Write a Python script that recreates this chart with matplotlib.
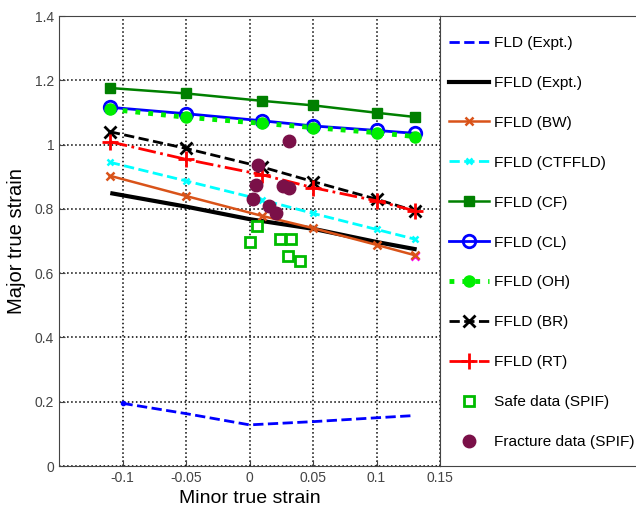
import numpy as np
import matplotlib
matplotlib.use("Agg")
from matplotlib import pyplot as plt

plt.rcParams['font.family'] = ['Liberation Sans', 'DejaVu Sans']

# ---- donnees ----
minor_pts = [-0.11, -0.05, 0.01, 0.05, 0.10, 0.13]

fld_x = [-0.10, -0.05, 0.0, 0.05, 0.10, 0.13]
fld_y = [0.195, 0.163, 0.128, 0.138, 0.150, 0.157]

ffld_expt_x = [-0.108, -0.05, 0.0, 0.05, 0.10, 0.13]
ffld_expt_y = [0.848, 0.807, 0.768, 0.738, 0.697, 0.675]

ffld_bw = [0.903, 0.840, 0.778, 0.740, 0.688, 0.656]
ffld_ctffld = [0.945, 0.887, 0.828, 0.786, 0.736, 0.706]
ffld_cf = [1.176, 1.159, 1.136, 1.122, 1.099, 1.086]
ffld_cl = [1.116, 1.096, 1.074, 1.058, 1.044, 1.035]
ffld_oh = [1.110, 1.085, 1.066, 1.053, 1.037, 1.025]
ffld_br = [1.040, 0.988, 0.930, 0.885, 0.830, 0.794]
ffld_rt = [1.009, 0.954, 0.906, 0.866, 0.825, 0.794]

safe_x = [0.0005, 0.006, 0.024, 0.033, 0.030, 0.040]
safe_y = [0.697, 0.747, 0.705, 0.705, 0.653, 0.638]

frac_x = [0.031, 0.007, 0.005, 0.026, 0.031, 0.003, 0.015, 0.021]
frac_y = [1.012, 0.935, 0.875, 0.870, 0.864, 0.830, 0.810, 0.786]

fig = plt.figure(figsize=(6.36, 5.09), dpi=100)
ax = fig.add_axes([59/636, 43/509, 381/636, 450/509])

ax.plot(fld_x, fld_y, '--', color='#0000ff', lw=2, label='FLD (Expt.)')
ax.plot(fld_x[:1], fld_y[:1], '.', color='#0000ff', ms=6)
ax.plot(ffld_expt_x, ffld_expt_y, '-', color='black', lw=3, label='FFLD (Expt.)')
ax.plot(minor_pts[-1:], [0.652], 'x', color='#ff00ff', ms=6, mew=2)
ax.plot(minor_pts, ffld_bw, '-x', color='#d95319', lw=1.8, ms=6, mew=1.8, label='FFLD (BW)')
ax.plot(minor_pts, ffld_ctffld, '--x', color='cyan', lw=2, ms=5, mew=1.8, label='FFLD (CTFFLD)')
ax.plot(minor_pts, ffld_cf, '-s', color='#008000', lw=1.8, ms=7, label='FFLD (CF)')
ax.plot(minor_pts, ffld_cl, '-o', color='#0000ff', lw=2, ms=9, mfc='none', mew=2, label='FFLD (CL)')
ax.plot(minor_pts, ffld_oh, ':o', color='#00ee00', lw=3.5, ms=8, label='FFLD (OH)')
ax.plot(minor_pts, ffld_br, '--x', color='black', lw=2, ms=9, mew=2, label='FFLD (BR)')
ax.plot(minor_pts, ffld_rt, '-.+', color='red', lw=2, ms=11, mew=2, label='FFLD (RT)')
ax.plot(safe_x, safe_y, 's', color='#00bb00', mfc='white', ms=7, mew=2, ls='none', label='Safe data (SPIF)')
ax.plot(frac_x, frac_y, 'o', color='#7a1048', ms=9, ls='none', label='Fracture data (SPIF)')

ax.set_xlim(-0.15, 0.15)
ax.set_ylim(0, 1.4)
ax.set_xticks([-0.1, -0.05, 0, 0.05, 0.1, 0.15])
ax.set_xticklabels(['-0.1', '-0.05', '0', '0.05', '0.1', '0.15'])
ax.set_yticks([0, 0.2, 0.4, 0.6, 0.8, 1, 1.2, 1.4])
ax.set_yticklabels(['0', '0.2', '0.4', '0.6', '0.8', '1', '1.2', '1.4'])
ax.grid(True, color='black', linestyle=':', linewidth=1.1)
ax.tick_params(direction='in', labelsize=10, colors='#444444', length=4)
for s in ax.spines.values():
    s.set_color('#444444')
ax.set_xlabel('Minor true strain', fontsize=14, labelpad=4)
ax.set_ylabel('Major true strain', fontsize=14.5, labelpad=6)

# cadre de la legende a droite
axl = fig.add_axes([440/636, 43/509, 196/636, 450/509])
axl.set_xticks([])
axl.set_yticks([])
for s in axl.spines.values():
    s.set_color('#444444')
axl.spines['right'].set_visible(False)

h, l = ax.get_legend_handles_labels()
fig.legend(h, l, loc='upper left', bbox_to_anchor=(449/636, 473/509), frameon=False,
           fontsize=11.1, labelspacing=1.68, handlelength=2.6, handletextpad=0.3,
           borderaxespad=0, borderpad=0)

fig.savefig('out.png', dpi=100)
